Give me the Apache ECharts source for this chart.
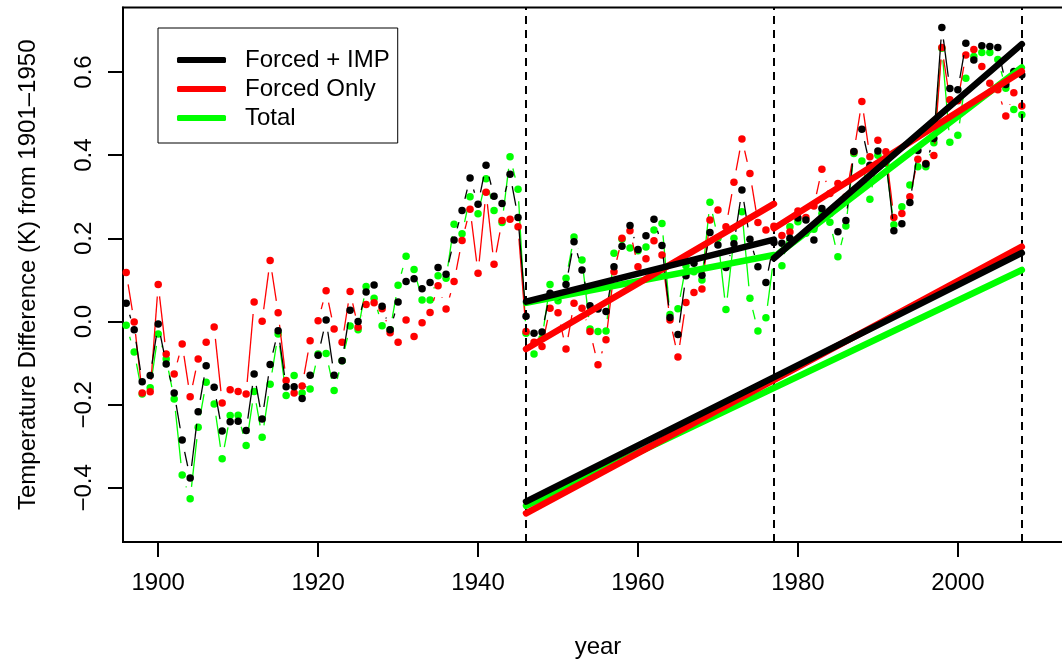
<!DOCTYPE html>
<html><head><meta charset="utf-8">
<script src="https://cdn.jsdelivr.net/npm/echarts@6/dist/echarts.min.js"></script>
<style>html,body{margin:0;padding:0;background:#fff}#c{width:1062px;height:660px}</style>
</head><body><div id="c"></div>
<script>
const years = [];
for (let y = 1896; y <= 2008; y++) years.push(y);

const forcedImp = [
0.044,-0.02,-0.145,-0.13,-0.006,-0.102,-0.172,-0.285,-0.376,-0.217,
-0.106,-0.158,-0.263,-0.241,-0.24,-0.262,-0.126,-0.234,-0.103,-0.022,
-0.157,-0.157,-0.185,-0.129,-0.081,0.004,-0.129,-0.094,0.027,0.0,
0.071,0.088,0.037,-0.02,0.047,0.096,0.103,0.079,0.094,0.13,
0.114,0.196,0.267,0.345,0.282,0.376,0.301,0.284,0.354,0.25,
0.013,-0.028,-0.025,0.068,0.06,0.089,0.192,0.124,0.038,0.03,
0.024,0.132,0.181,0.231,0.173,0.206,0.246,0.183,0.01,-0.031,
0.11,0.14,0.111,0.214,0.184,0.13,0.187,0.316,0.198,0.132,
0.094,0.19,0.188,0.2,0.249,0.244,0.196,0.272,0.26,0.216,
0.243,0.409,0.462,0.376,0.41,0.39,0.218,0.235,0.286,0.411,
0.379,0.44,0.707,0.56,0.557,0.669,0.629,0.663,0.661,0.659,
0.57,0.601,0.593];

const forcedOnly = [
0.118,-0.001,-0.172,-0.169,0.089,-0.078,-0.126,-0.054,-0.181,-0.09,
-0.05,-0.013,-0.196,-0.164,-0.168,-0.174,0.047,0.001,0.147,0.021,
-0.142,-0.172,-0.155,-0.046,0.002,0.074,-0.018,-0.05,0.072,-0.014,
0.041,0.045,0.031,-0.027,-0.05,0.004,-0.036,-0.003,0.022,0.086,
0.03,0.096,0.195,0.27,0.116,0.311,0.138,0.243,0.246,0.228,
-0.024,-0.05,-0.06,0.032,0.021,-0.066,0.044,0.032,-0.024,-0.104,
-0.044,0.12,0.2,0.218,0.132,0.151,0.194,0.16,0.004,-0.085,
0.046,0.07,0.078,0.244,0.268,0.228,0.335,0.439,0.356,0.238,
0.22,0.229,0.207,0.215,0.266,0.25,0.278,0.366,0.308,0.332,
0.3,0.408,0.529,0.396,0.436,0.408,0.25,0.26,0.3,0.39,
0.38,0.399,0.659,0.533,0.531,0.641,0.654,0.613,0.573,0.557,
0.494,0.55,0.518];

const total = [
-0.009,-0.073,-0.174,-0.159,-0.03,-0.09,-0.186,-0.369,-0.426,-0.254,
-0.146,-0.198,-0.33,-0.226,-0.225,-0.298,-0.168,-0.278,-0.151,-0.03,
-0.178,-0.13,-0.172,-0.162,-0.078,-0.077,-0.166,-0.094,-0.011,-0.02,
0.084,0.056,-0.01,-0.02,0.087,0.157,0.125,0.052,0.052,0.11,
0.104,0.234,0.211,0.3,0.259,0.343,0.267,0.238,0.396,0.318,
-0.028,-0.078,-0.04,0.089,0.05,0.104,0.203,0.148,-0.018,-0.024,
-0.023,0.164,0.198,0.177,0.17,0.179,0.22,0.236,0.017,0.031,
0.134,0.12,0.1,0.287,0.2,0.029,0.2,0.264,0.056,-0.023,
0.009,0.156,0.134,0.228,0.24,0.212,0.222,0.26,0.239,0.156,
0.23,0.404,0.386,0.294,0.4,0.38,0.233,0.276,0.328,0.372,
0.372,0.43,0.657,0.431,0.448,0.585,0.637,0.647,0.647,0.63,
0.561,0.51,0.497];

// trend segments: [startYear, startValue, endYear, endValue]
const trendImpEarly   = [1946, 0.048, 1977, 0.197];
const trendImpLate    = [1977, 0.152, 2008, 0.667];
const trendImpLong    = [1946, -0.433, 2008, 0.165];
const trendOnlyEarly  = [1946, -0.066, 1977, 0.283];
const trendOnlyLate   = [1977, 0.224, 2008, 0.602];
const trendOnlyLong   = [1946, -0.461, 2008, 0.18];
const trendTotalEarly = [1946, 0.045, 1977, 0.16];
const trendTotalLate  = [1977, 0.155, 2008, 0.611];
const trendTotalLong  = [1946, -0.443, 2008, 0.124];

const periodBreaks = [1946, 1977, 2008];
const xTicks = [1900, 1920, 1940, 1960, 1980, 2000];
const yTicks = [-0.4, -0.2, 0.0, 0.2, 0.4, 0.6];

const names = ['Forced + IMP', 'Forced Only', 'Total'];
const colors = {'Forced + IMP': '#000000', 'Forced Only': '#ff0000', 'Total': '#00ff00'};
const FONT = 'Liberation Sans, Arial, Helvetica, sans-serif';
const GAP = 12; // R type="b" gap around points (px)

function pts(vals) { return years.map((y, i) => [y, vals[i]]); }
function segs(vals) {
  const out = [];
  for (let i = 0; i < years.length - 1; i++) out.push([years[i], vals[i], years[i + 1], vals[i + 1]]);
  return out;
}
function seg(t) { return [[t[0], t[1]], [t[2], t[3]]]; }

function pointSeries(name, vals, z) {
  return {
    name, type: 'scatter', data: pts(vals), z,
    symbol: 'circle', symbolSize: 7.5,
    itemStyle: {color: colors[name], opacity: 1},
    animation: false, silent: true
  };
}
function gapLineSeries(name, vals, z) {
  return {
    type: 'custom', data: segs(vals), z, silent: true, animation: false,
    encode: {x: [0, 2], y: [1, 3]},
    renderItem: function (params, api) {
      const a = api.coord([api.value(0), api.value(1)]);
      const b = api.coord([api.value(2), api.value(3)]);
      const dx = b[0] - a[0], dy = b[1] - a[1];
      const d = Math.sqrt(dx * dx + dy * dy);
      if (d <= 2 * GAP) return null;
      const ux = dx / d, uy = dy / d;
      return {
        type: 'line',
        shape: {x1: a[0] + ux * GAP, y1: a[1] + uy * GAP, x2: b[0] - ux * GAP, y2: b[1] - uy * GAP},
        style: {stroke: colors[name], lineWidth: 1.3}
      };
    }
  };
}
function trendSeries(name, t, z) {
  return {
    name: name + ' trend', type: 'line', data: seg(t), z,
    symbol: 'none',
    lineStyle: {color: colors[name], width: 6.5, cap: 'round'},
    animation: false, silent: true
  };
}
// legend proxies (thick line icons)
function legendSeries(name) {
  return {name, type: 'line', data: [], itemStyle: {color: colors[name]}, lineStyle: {color: colors[name]}};
}

const series = [
  legendSeries('Forced + IMP'), legendSeries('Forced Only'), legendSeries('Total'),
  gapLineSeries('Total', total, 2),
  pointSeries('Total', total, 2),
  gapLineSeries('Forced Only', forcedOnly, 3),
  pointSeries('Forced Only', forcedOnly, 3),
  gapLineSeries('Forced + IMP', forcedImp, 4),
  pointSeries('Forced + IMP', forcedImp, 4),
  trendSeries('Total', trendTotalEarly, 5),
  trendSeries('Total', trendTotalLate, 5),
  trendSeries('Total', trendTotalLong, 5),
  trendSeries('Forced Only', trendOnlyEarly, 6),
  trendSeries('Forced Only', trendOnlyLate, 6),
  trendSeries('Forced Only', trendOnlyLong, 6),
  trendSeries('Forced + IMP', trendImpEarly, 7),
  trendSeries('Forced + IMP', trendImpLate, 7),
  trendSeries('Forced + IMP', trendImpLong, 7),
  {
    type: 'line', data: [], silent: true, animation: false, z: 8,
    markLine: {
      symbol: 'none', silent: true, animation: false,
      label: {show: false},
      lineStyle: {color: '#000', width: 2, type: [8, 6]},
      data: periodBreaks.map(x => ({xAxis: x}))
    }
  }
];

const chart = echarts.init(document.getElementById('c'), null, {renderer: 'canvas'});
chart.setOption({
  animation: false,
  backgroundColor: '#fff',
  grid: {left: 123, top: 7.5, right: -11, bottom: 118, outerBoundsMode: 'none', containLabel: false,
         show: true, borderColor: '#000', borderWidth: 2, backgroundColor: 'transparent'},
  legend: {
    data: names,
    orient: 'vertical', left: 158, top: 28,
    padding: [20, 8, 13, 19],
    itemWidth: 49, itemHeight: 6, itemGap: 5,
    icon: 'roundRect',
    backgroundColor: '#fff', borderColor: '#000', borderWidth: 1,
    selectedMode: false, z: 20,
    textStyle: {fontFamily: FONT, fontSize: 24, color: '#000', padding: [0, 0, 0, 14]}
  },
  xAxis: {
    type: 'value', min: 1895.6, max: 2014.4,
    name: 'year', nameLocation: 'middle', nameGap: 93,
    nameTextStyle: {fontFamily: FONT, fontSize: 24, color: '#000'},
    axisLine: {show: true, onZero: false, lineStyle: {color: '#000', width: 2}},
    axisTick: {show: true, length: 15, lineStyle: {color: '#000', width: 2}, customValues: xTicks},
    axisLabel: {fontFamily: FONT, fontSize: 24, color: '#000', margin: 29, customValues: xTicks, formatter: v => String(v)},
    splitLine: {show: false}
  },
  yAxis: {
    type: 'value', min: -0.53, max: 0.755,
    name: 'Temperature Difference (K) from 1901\u20131950', nameLocation: 'middle', nameGap: 83,
    nameRotate: 90,
    nameTextStyle: {fontFamily: FONT, fontSize: 24, color: '#000'},
    axisLine: {show: true, onZero: false, lineStyle: {color: '#000', width: 2}},
    axisTick: {show: true, length: 15, lineStyle: {color: '#000', width: 2}, customValues: yTicks},
    axisLabel: {fontFamily: FONT, fontSize: 24, color: '#000', margin: 27, rotate: 90, customValues: yTicks,
      formatter: v => (v < 0 ? '\u2212' : '') + Math.abs(v).toFixed(1)},
    splitLine: {show: false}
  },
  series
});
</script></body></html>
